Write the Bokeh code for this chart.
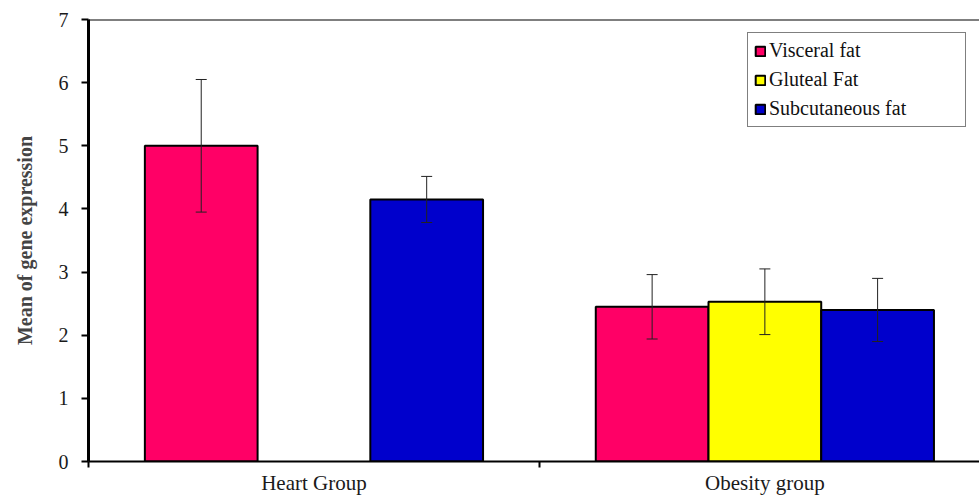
from bokeh.plotting import figure
from bokeh.models import (Range1d, FixedTicker, Whisker, ColumnDataSource, Span,
                          Legend, LegendItem, TeeHead)
from bokeh.embed import file_html
from bokeh.resources import INLINE

# ---- data ----
groups = ["Heart Group", "Obesity group"]
series = ["Visceral fat", "Gluteal Fat", "Subcutaneous fat"]
colors = ["#FF0066", "#FFFF00", "#0000CC"]
visceral = [5.00, 2.45]
visceral_err = [1.05, 0.51]
gluteal = [None, 2.53]
gluteal_err = [None, 0.52]
subcutaneous = [4.15, 2.40]
subcutaneous_err = [0.365, 0.50]
y_ticks = [0, 1, 2, 3, 4, 5, 6, 7]

values = [visceral, gluteal, subcutaneous]
errors = [visceral_err, gluteal_err, subcutaneous_err]

bar_w = 0.25
offsets = [-bar_w, 0.0, bar_w]

p = figure(width=979, height=497, x_range=Range1d(0, 1.976), y_range=Range1d(0, 7),
           output_backend="svg", toolbar_location=None,
           min_border_left=88, min_border_right=0, min_border_top=19, min_border_bottom=35)
p.outline_line_color = None
p.xgrid.visible = False
p.ygrid.visible = False
p.background_fill_color = "white"
p.border_fill_color = "white"

FONT = "Liberation Serif"

items = []
for s, name in enumerate(series):
    xs, tops, ups, los = [], [], [], []
    for g in range(len(groups)):
        v = values[s][g]
        if v is None:
            continue
        e = errors[s][g]
        xs.append(g + 0.5 + offsets[s])
        tops.append(v)
        ups.append(v + e)
        los.append(v - e)
    src = ColumnDataSource(dict(x=xs, top=tops, upper=ups, lower=los))
    r = p.vbar(x="x", top="top", width=bar_w, bottom=0, source=src,
               fill_color=colors[s], line_color="black", line_width=2)
    w = Whisker(base="x", upper="upper", lower="lower", source=src, level="overlay",
                line_color="#222222", line_width=1,
                upper_head=TeeHead(size=11, line_color="#222222", line_width=1),
                lower_head=TeeHead(size=11, line_color="#222222", line_width=1))
    p.add_layout(w)
    items.append(LegendItem(label=name, renderers=[r]))

# top border line
p.add_layout(Span(location=7, dimension="width", line_color="black", line_width=2))

# y axis
ya = p.yaxis[0]
ya.ticker = FixedTicker(ticks=y_ticks, minor_ticks=[])
ya.axis_label = "Mean of gene expression"
ya.axis_label_text_font = FONT
ya.axis_label_text_font_style = "bold"
ya.axis_label_text_font_size = "20px"
ya.axis_label_standoff = 20
ya.major_label_text_font = FONT
ya.major_label_text_font_size = "20px"
ya.major_label_text_color = "#1a1a1a"
ya.major_label_standoff = 13
ya.axis_line_width = 3
ya.axis_line_color = "black"
ya.major_tick_out = 7
ya.major_tick_in = 0
ya.major_tick_line_width = 2
ya.minor_tick_line_color = None

# x axis
xa = p.xaxis[0]
centers = [g + 0.5 for g in range(len(groups))]
bounds = [float(g) for g in range(len(groups) + 1)]
xa.ticker = FixedTicker(ticks=centers, minor_ticks=bounds)
xa.major_label_overrides = {c: lab for c, lab in zip(centers, groups)}
xa.major_tick_line_color = None
xa.major_tick_out = 0
xa.major_tick_in = 0
xa.minor_tick_out = 6
xa.minor_tick_in = 0
xa.minor_tick_line_width = 2
xa.minor_tick_line_color = "black"
xa.axis_line_width = 2
xa.axis_line_color = "black"
xa.major_label_text_font = FONT
xa.major_label_text_font_size = "21px"
xa.major_label_text_color = "#1a1a1a"
xa.major_label_standoff = 3

legend = Legend(items=items, location="top_right", margin=13, padding=6, spacing=6,
                label_text_font=FONT, label_text_font_size="20px",
                label_text_color="#111111",
                glyph_width=12, glyph_height=12, label_standoff=3,
                label_height=22, label_width=190,
                border_line_color="black", border_line_width=1.5,
                background_fill_color="white", background_fill_alpha=1.0)
p.add_layout(legend, "center")

open("out.html", "w").write(file_html(p, INLINE))
